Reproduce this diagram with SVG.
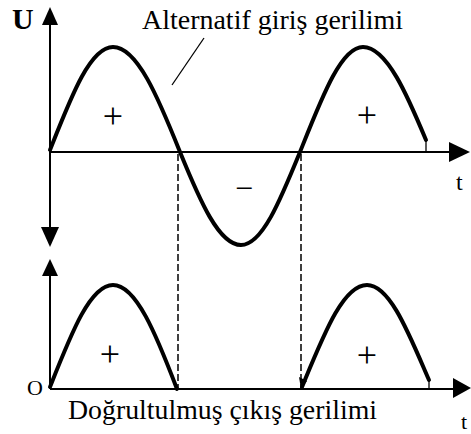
<svg xmlns="http://www.w3.org/2000/svg" width="471" height="434" viewBox="0 0 471 434">
<style>
  .axis { stroke: #000; stroke-width: 2; fill: none; }
  .wave { stroke: #000; stroke-width: 4; fill: none; stroke-linejoin: round; stroke-linecap: round; }
  .thin { stroke: #000; stroke-width: 1.3; fill: none; }
  .dash { stroke: #000; stroke-width: 1.5; fill: none; stroke-dasharray: 7 3; }
  .head { fill: #000; }
  text { font-family: 'Liberation Serif', Tinos, 'Times New Roman', serif; fill: #000; }
</style>
<rect width="471" height="434" fill="#fff"/>
<g id="axes">
  <line class="axis" x1="50" y1="24" x2="50" y2="228"/>
  <polygon class="head" points="50,7 42,25 58,25"/>
  <polygon class="head" points="50,247 41,227 59,227"/>
  <line class="axis" x1="50" y1="152" x2="450" y2="152"/>
  <polygon class="head" points="470,152 449,142 449,162"/>
  <line class="axis" x1="50" y1="275" x2="50" y2="389"/>
  <polygon class="head" points="50,259 42,276 58,276"/>
  <line class="axis" x1="50" y1="389" x2="454" y2="389"/>
  <polygon class="head" points="471,388 453,378 453,398"/>
</g>
<g id="input-wave">
  <path class="wave" d="M50,150 C71,97 90,47 113,47 C137,47 158,97 180,152 C200,201 219,245 241,245 C262,245 280,201 300,152 C322,97 341,47 363,47 C387,47 408,97 426,140"/>
  <line class="thin" x1="426" y1="140" x2="426" y2="152"/>
</g>
<g id="output-wave">
  <path class="wave" d="M50,387 C71,334 90,285 113,285 C136,285 156,334 177,389"/>
  <path class="wave" d="M302,387 C324,334 343,285 367,285 C390,285 409,334 429,380"/>
  <line class="thin" x1="429" y1="380" x2="429" y2="389"/>
  <polygon class="head" points="301,389 299,377 307,381"/>
</g>
<g id="connectors">
  <line class="dash" x1="178" y1="154" x2="178" y2="389"/>
  <line class="dash" x1="301" y1="154" x2="301" y2="389"/>
  <line class="thin" x1="204" y1="38" x2="172" y2="85"/>
</g>
<g id="labels">
  <text x="12" y="29" font-size="30" font-weight="bold">U</text>
  <text x="142" y="29" font-size="28" textLength="261" lengthAdjust="spacingAndGlyphs">Alternatif giriş gerilimi</text>
  <text x="113" y="128" font-size="36" text-anchor="middle">+</text>
  <text x="367" y="127" font-size="36" text-anchor="middle">+</text>
  <text x="244" y="199" font-size="32" text-anchor="middle">−</text>
  <text x="110" y="366" font-size="36" text-anchor="middle">+</text>
  <text x="367" y="367" font-size="36" text-anchor="middle">+</text>
  <text x="456" y="190" font-size="24">t</text>
  <text x="461" y="429" font-size="22">t</text>
  <text x="27" y="395" font-size="22">O</text>
  <text x="68" y="419" font-size="28" textLength="309" lengthAdjust="spacingAndGlyphs">Doğrultulmuş çıkış gerilimi</text>
</g>
</svg>
